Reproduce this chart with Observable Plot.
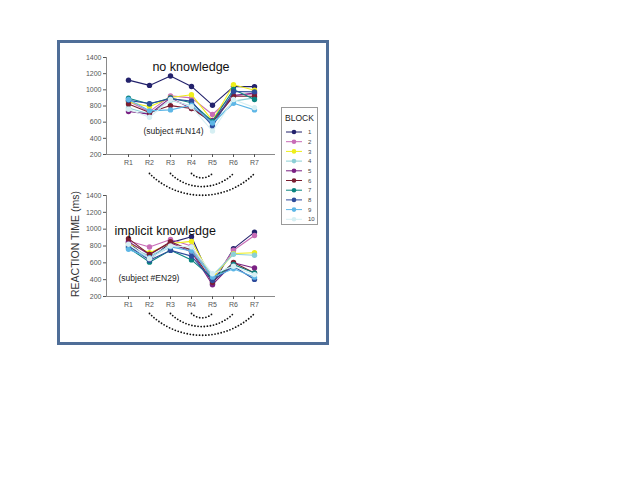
<!DOCTYPE html>
<html>
<head>
<meta charset="utf-8">
<script src="https://cdn.jsdelivr.net/npm/d3@7"></script>
<script src="https://cdn.jsdelivr.net/npm/@observablehq/plot@0.6"></script>
<style>
  html, body { margin: 0; padding: 0; background: #fff; }
  #wrap { position: relative; width: 640px; height: 480px; overflow: hidden; font-family: "Liberation Sans", Arial, sans-serif; }
  #wrap svg.plotsvg { position: absolute; left: 0; top: 0; }
  #frame { position: absolute; left: 57px; top: 40px; width: 266px; height: 299px; border: 3px solid #4f6e98; }
  #ytitle { position: absolute; left: 75px; top: 244px; transform: translate(-50%, -50%) rotate(-90deg); font-size: 10.5px; color: #333; white-space: nowrap; }
  #legend { position: absolute; left: 281px; top: 107px; width: 35px; height: 116px; border: 1px solid #9a9a9a; background: #fff; }
</style>
</head>
<body>
<div id="wrap">
  <div id="frame"></div>
  <div id="ytitle">REACTION TIME (ms)</div>
  <div id="legend"></div>
</div>
<script>
// ---- data ----
const categories = ["R1", "R2", "R3", "R4", "R5", "R6", "R7"];
const blocks = ["1", "2", "3", "4", "5", "6", "7", "8", "9", "10"];
const colors = ["#23226c", "#c86cb6", "#eeee1a", "#8ccfd6", "#7b2183", "#7a1e30", "#0b8580", "#2e4c9c", "#5db6e6", "#d6eff3"];
const yTicks = [200, 400, 600, 800, 1000, 1200, 1400];
const arcs = [["R4", "R5"], ["R3", "R6"], ["R2", "R7"]];

// no knowledge (subject #LN14): one row per block, R1..R7
const topValues = [
  [1120, 1055, 1172, 1042, 810, 1040, 1040],
  [860, 730, 925, 900, 695, 930, 950],
  [850, 790, 905, 940, 620, 1062, 995],
  [775, 700, 870, 800, 570, 860, 900],
  [732, 700, 900, 770, 620, 930, 960],
  [825, 720, 805, 770, 600, 920, 920],
  [895, 825, 900, 840, 610, 1005, 880],
  [870, 830, 890, 860, 550, 980, 975],
  [880, 740, 752, 810, 590, 833, 752],
  [760, 660, 880, 790, 490, 880, 780]
];
// implicit knowledge (subject #EN29)
const bottomValues = [
  [840, 640, 840, 910, 350, 768, 965],
  [860, 788, 878, 800, 390, 750, 925],
  [830, 720, 830, 855, 420, 710, 720],
  [790, 680, 800, 760, 450, 702, 690],
  [850, 700, 840, 730, 340, 600, 538],
  [887, 700, 850, 750, 370, 605, 480],
  [780, 608, 750, 635, 420, 580, 480],
  [800, 630, 748, 680, 390, 560, 403],
  [760, 660, 790, 740, 430, 530, 430],
  [820, 650, 800, 790, 470, 560, 460]
];

function toRows(values) {
  const rows = [];
  blocks.forEach((b, i) => categories.forEach((c, j) => rows.push({block: b, r: c, v: values[i][j]})));
  return rows;
}

function panel(values, marginTop, marginBottom, arcDy, title, titleOpts, subject, subjectOpts) {
  const rows = toRows(values);
  const seriesMarks = blocks.flatMap(b => {
    const d = rows.filter(r => r.block === b);
    return [
      Plot.line(d, {x: "r", y: "v", stroke: "block", strokeWidth: 1.1}),
      Plot.dot(d, {x: "r", y: "v", fill: "block", r: 2.7})
    ];
  });
  const svg = Plot.plot({
    width: 640,
    height: 480,
    marginTop,
    marginBottom,
    marginLeft: 106,
    marginRight: 365,
    style: {fontFamily: "'Liberation Sans', Arial, sans-serif", background: "transparent", overflow: "visible"},
    x: {type: "point", domain: categories, padding: 1, label: null},
    y: {domain: [200, 1400], label: null},
    color: {domain: blocks, range: colors},
    marks: [
      Plot.ruleY([200], {stroke: "#8a8a8a"}),
      Plot.frame({anchor: "left", stroke: "#8a8a8a"}),
      Plot.axisY({ticks: yTicks, tickFormat: d3.format("d"), tickSize: 3, tickPadding: 2, fontSize: 7, color: "#555", label: null}),
      Plot.axisX({tickSize: 3, tickPadding: 3, fontSize: 7, color: "#555", label: null}),
      ...seriesMarks,
      Plot.arrow(arcs, {x1: d => d[0], x2: d => d[1], y1: () => 200, y2: () => 200, dy: arcDy, bend: -45, headLength: 0, stroke: "#111", strokeWidth: 1.8, strokeDasharray: "0,3.1", strokeLinecap: "round"}),
      Plot.text([title], {...titleOpts, fontSize: 12.5, fill: "#111"}),
      Plot.text([subject], {...subjectOpts, textAnchor: "start", fontSize: 8.5, fill: "#222"})
    ]
  });
  svg.classList.add("plotsvg");
  return svg;
}

const wrap = document.getElementById("wrap");
const legendEl = document.getElementById("legend");

wrap.insertBefore(panel(topValues, 57, 480 - 154, 19, "no knowledge", {frameAnchor: "top", dy: 5}, "(subject #LN14)", {frameAnchor: "top-left", dx: 37, dy: 70}), legendEl);
wrap.insertBefore(panel(bottomValues, 195, 480 - 296, 17, "implicit knowledge", {frameAnchor: "top-left", dx: 8, dy: 31, textAnchor: "start"}, "(subject #EN29)", {frameAnchor: "top-left", dx: 12, dy: 79}), legendEl);

// ---- legend ----
const lsvg = d3.select(legendEl).append("svg").attr("width", 35).attr("height", 116)
  .style("font-family", "'Liberation Sans', Arial, sans-serif");
lsvg.append("text").attr("x", 17.5).attr("y", 13).attr("text-anchor", "middle").attr("font-size", 8.5).attr("fill", "#222").text("BLOCK");
const item = lsvg.selectAll("g.item").data(blocks).join("g").attr("class", "item")
  .attr("transform", (d, i) => `translate(0, ${24 + i * 9.7})`);
item.append("line").attr("x1", 4).attr("x2", 20).attr("y1", 0).attr("y2", 0).attr("stroke", (d, i) => colors[i]).attr("stroke-width", 1);
item.append("circle").attr("cx", 12).attr("cy", 0).attr("r", 2.3).attr("fill", (d, i) => colors[i]);
item.append("text").attr("x", 26).attr("y", 0).attr("dy", "0.35em").attr("font-size", 6).attr("fill", "#444").text(d => d);
</script>
</body>
</html>
